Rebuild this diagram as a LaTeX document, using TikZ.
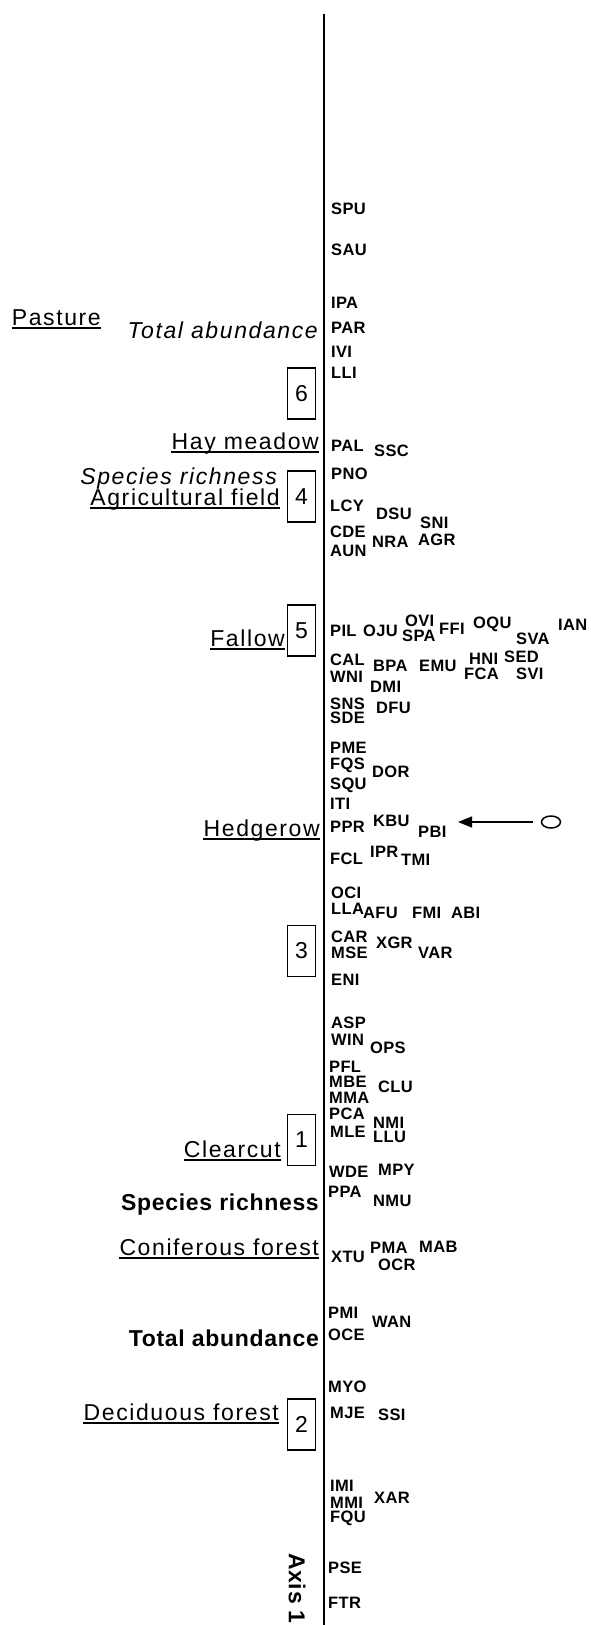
\documentclass[tikz,border=0pt]{standalone}
\usepackage{fontspec}
\setmainfont{Liberation Sans}
\newfontfamily\codefont{Liberation Sans}[LetterSpace=2]
\newfontfamily\labelfont{Liberation Sans}[LetterSpace=7]
\newfontfamily\boldfont{Liberation Sans}[LetterSpace=3]
\usetikzlibrary{arrows.meta,shapes.geometric,positioning}

\begin{document}
\begin{tikzpicture}[x=1pt, y=-1pt]
		\tikzstyle{code}=[anchor=west, inner sep=0pt, font=\codefont\bfseries\fontsize{16.5}{18}\selectfont]
		\tikzstyle{habitat}=[anchor=base east, inner sep=0pt, font=\labelfont\fontsize{23}{26}\selectfont]
		\tikzstyle{measure}=[anchor=base east, inner sep=0pt, font=\labelfont\itshape\fontsize{23}{26}\selectfont]
		\tikzstyle{boldmeasure}=[anchor=base east, inner sep=0pt, font=\boldfont\bfseries\fontsize{23}{26}\selectfont]
		\tikzstyle{plotbox}=[draw, line width=1.4pt, minimum width=28pt, minimum height=51pt, inner sep=0pt, font=\fontsize{23}{26}\selectfont]
		\useasboundingbox (0,0) rectangle (590,1625);
		% axis
		\coordinate (top) at (324,14);
		\coordinate (bottom) at (324,1625);
		\draw [line width=1.8pt] (top) -- (bottom);
		\node [anchor=west, inner sep=0pt, rotate=-90, font=\boldfont\bfseries\fontsize{23}{26}\selectfont] (axis) at (297,1553) {Axis 1};
		% habitats and measures
		\node [habitat] (pasture) at (101,325) {Pasture};
		\node [measure] (abund1) at (318,338) {Total abundance};
		\node [habitat] (hay) at (319,449) {Hay meadow};
		\node [measure] (rich1) at (277,484) {Species richness};
		\node [habitat] (agri) at (280,505) {Agricultural field};
		\node [habitat] (fallow) at (285,646) {Fallow};
		\node [habitat] (hedge) at (320,836) {Hedgerow};
		\node [habitat] (clear) at (281,1157) {Clearcut};
		\node [boldmeasure] (rich2) at (319,1210) {Species richness};
		\node [habitat] (conif) at (319,1255) {Coniferous forest};
		\node [boldmeasure] (abund2) at (319,1346) {Total abundance};
		\node [habitat] (decid) at (279,1420) {Deciduous forest};
		\foreach \n in {pasture,hay,agri,fallow,hedge,clear,conif,decid}
			\draw [line width=1.2pt] ([yshift=-3pt]\n.base west) -- ([yshift=-3pt]\n.base east);
		% numbered boxes
		\node [plotbox] (box6) at (301.5,393.5) {6};
		\node [plotbox] (box4) at (301.5,496.5) {4};
		\node [plotbox] (box5) at (301.5,630.5) {5};
		\node [plotbox] (box3) at (301.5,951) {3};
		\node [plotbox] (box1) at (301.5,1140) {1};
		\node [plotbox] (box2) at (301.5,1424.5) {2};
		% species
		\node [code] (SPU) at (331,209) {SPU};
		\node [code] (SAU) at (331,250) {SAU};
		\node [code] (IPA) at (331,303) {IPA};
		\node [code] (PAR) at (331,328) {PAR};
		\node [code] (IVI) at (331,352) {IVI};
		\node [code] (LLI) at (331,373) {LLI};
		\node [code] (PAL) at (331,446) {PAL};
		\node [code] (SSC) at (374,451) {SSC};
		\node [code] (PNO) at (331,474) {PNO};
		\node [code] (LCY) at (330,506) {LCY};
		\node [code] (DSU) at (376,514) {DSU};
		\node [code] (SNI) at (420,523) {SNI};
		\node [code] (CDE) at (330,532) {CDE};
		\node [code] (NRA) at (372,542) {NRA};
		\node [code] (AGR) at (418,540) {AGR};
		\node [code] (AUN) at (330,551) {AUN};
		\node [code] (PIL) at (330,631) {PIL};
		\node [code] (OJU) at (363,631) {OJU};
		\node [code] (OVI) at (405,621) {OVI};
		\node [code] (SPA) at (402,636) {SPA};
		\node [code] (FFI) at (439,629) {FFI};
		\node [code] (OQU) at (473,624) {OQU};
		\node [code] (SVA) at (516,639) {SVA};
		\node [code] (IAN) at (558,625) {IAN};
		\node [code] (CAL) at (330,660) {CAL};
		\node [code] (BPA) at (373,666) {BPA};
		\node [code] (EMU) at (419,666) {EMU};
		\node [code] (HNI) at (469,659) {HNI};
		\node [code] (SED) at (504,657) {SED};
		\node [code] (FCA) at (464,674) {FCA};
		\node [code] (SVI) at (516,674) {SVI};
		\node [code] (WNI) at (330,677) {WNI};
		\node [code] (DMI) at (370,687) {DMI};
		\node [code] (SNS) at (330,704) {SNS};
		\node [code] (SDE) at (330,718) {SDE};
		\node [code] (DFU) at (376,708) {DFU};
		\node [code] (PME) at (330,748) {PME};
		\node [code] (FQS) at (330,765) {FQS};
		\node [code] (DOR) at (372,772) {DOR};
		\node [code] (SQU) at (330,785) {SQU};
		\node [code] (ITI) at (330,804) {ITI};
		\node [code] (PPR) at (330,827) {PPR};
		\node [code] (KBU) at (373,821) {KBU};
		\node [code] (PBI) at (418,832) {PBI};
		\node [code] (FCL) at (330,859) {FCL};
		\node [code] (IPR) at (370,852) {IPR};
		\node [code] (TMI) at (401,860) {TMI};
		\node [code] (OCI) at (331,893) {OCI};
		\node [code] (LLA) at (331,909) {LLA};
		\node [code] (AFU) at (363,913) {AFU};
		\node [code] (FMI) at (412,913) {FMI};
		\node [code] (ABI) at (451,913) {ABI};
		\node [code] (CAR) at (331,937) {CAR};
		\node [code] (MSE) at (331,953) {MSE};
		\node [code] (XGR) at (376,943) {XGR};
		\node [code] (VAR) at (418,953) {VAR};
		\node [code] (ENI) at (331,980) {ENI};
		\node [code] (ASP) at (331,1023) {ASP};
		\node [code] (WIN) at (331,1040) {WIN};
		\node [code] (OPS) at (370,1048) {OPS};
		\node [code] (PFL) at (329,1067) {PFL};
		\node [code] (MBE) at (329,1082) {MBE};
		\node [code] (CLU) at (378,1087) {CLU};
		\node [code] (MMA) at (329,1098) {MMA};
		\node [code] (PCA) at (329,1114) {PCA};
		\node [code] (NMI) at (373,1123) {NMI};
		\node [code] (MLE) at (330,1132) {MLE};
		\node [code] (LLU) at (373,1137) {LLU};
		\node [code] (WDE) at (329,1172) {WDE};
		\node [code] (MPY) at (378,1170) {MPY};
		\node [code] (PPA) at (328,1192) {PPA};
		\node [code] (NMU) at (373,1201) {NMU};
		\node [code] (XTU) at (331,1257) {XTU};
		\node [code] (PMA) at (370,1248) {PMA};
		\node [code] (OCR) at (378,1265) {OCR};
		\node [code] (MAB) at (419,1247) {MAB};
		\node [code] (PMI) at (328,1313) {PMI};
		\node [code] (OCE) at (328,1335) {OCE};
		\node [code] (WAN) at (372,1322) {WAN};
		\node [code] (MYO) at (328,1387) {MYO};
		\node [code] (MJE) at (330,1413) {MJE};
		\node [code] (SSI) at (378,1415) {SSI};
		\node [code] (IMI) at (330,1486) {IMI};
		\node [code] (MMI) at (330,1503) {MMI};
		\node [code] (FQU) at (330,1518) {FQU};
		\node [code] (XAR) at (374,1498) {XAR};
		\node [code] (PSE) at (328,1568) {PSE};
		\node [code] (FTR) at (328,1603) {FTR};
		% arrow to PBI
		\node [draw, ellipse, line width=1.5pt, minimum width=19pt, minimum height=12pt, inner sep=0pt] (ring) at (551,822) {};
		\coordinate (tip) at (458,822);
		\draw [line width=1.3pt, -{Triangle[length=14pt,width=11pt]}, shorten <=8pt] (ring.west) -- (tip);
		\end{tikzpicture}
\end{document}
